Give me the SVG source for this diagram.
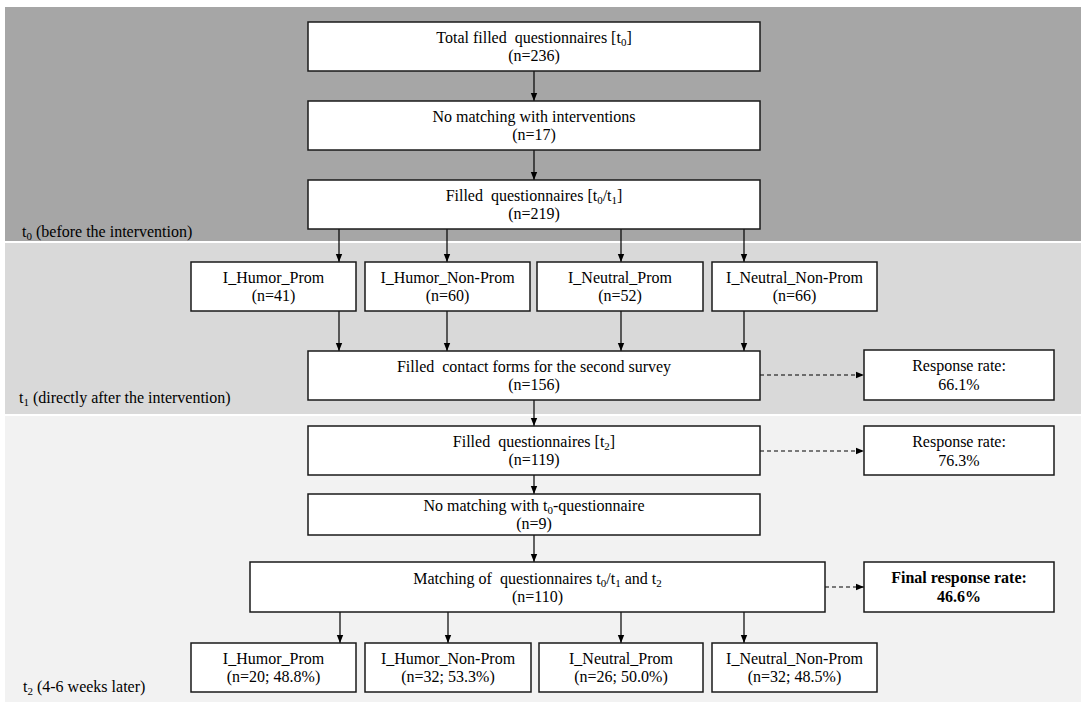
<svg xmlns="http://www.w3.org/2000/svg" width="1084" height="710" viewBox="0 0 1084 710" font-family="'Liberation Serif', 'DejaVu Serif', serif">
<defs>
<marker id="ah" viewBox="0 0 10 10" refX="10" refY="5" markerWidth="8" markerHeight="8" markerUnits="userSpaceOnUse" orient="auto"><path d="M0,1 L10,5 L0,9 z" fill="#000"/></marker>
<style>
.box{fill:#fff;stroke:#1a1a1a;stroke-width:1.5}
text{font-family:'Liberation Serif','DejaVu Serif',serif;font-size:16px;fill:#000}
.c{text-anchor:middle}
.b{font-weight:bold}
.sub{font-size:11px}
.ln{stroke:#000;stroke-width:1.2;fill:none}
.dash{stroke:#000;stroke-width:1.2;fill:none;stroke-dasharray:4 3}
</style>
</defs>
<rect width="1084" height="710" fill="#fff"/>
<g id="bands">
<rect x="5" y="7" width="1076" height="234" fill="#a6a6a6"/>
<rect x="5" y="243" width="1076" height="171" fill="#d9d9d9"/>
<rect x="5" y="416" width="1076" height="286" fill="#f2f2f2"/>
<text x="22" y="237">t<tspan class="sub" dy="3">0</tspan><tspan dy="-3"> (before the intervention)</tspan></text>
<text x="19" y="403">t<tspan class="sub" dy="3">1</tspan><tspan dy="-3"> (directly after the intervention)</tspan></text>
<text x="23" y="692">t<tspan class="sub" dy="3">2</tspan><tspan dy="-3"> (4-6 weeks later)</tspan></text>
</g>
<g id="connectors">
<line class="ln" x1="534" y1="71" x2="534" y2="101" marker-end="url(#ah)"/>
<line class="ln" x1="534" y1="150" x2="534" y2="180" marker-end="url(#ah)"/>
<line class="ln" x1="339" y1="229" x2="339" y2="262" marker-end="url(#ah)"/>
<line class="ln" x1="447" y1="229" x2="447" y2="262" marker-end="url(#ah)"/>
<line class="ln" x1="621" y1="229" x2="621" y2="262" marker-end="url(#ah)"/>
<line class="ln" x1="744" y1="229" x2="744" y2="262" marker-end="url(#ah)"/>
<line class="ln" x1="339" y1="311" x2="339" y2="351" marker-end="url(#ah)"/>
<line class="ln" x1="447" y1="311" x2="447" y2="351" marker-end="url(#ah)"/>
<line class="ln" x1="621" y1="311" x2="621" y2="351" marker-end="url(#ah)"/>
<line class="ln" x1="744" y1="311" x2="744" y2="351" marker-end="url(#ah)"/>
<line class="dash" x1="760" y1="375" x2="864" y2="375" marker-end="url(#ah)"/>
<line class="ln" x1="534" y1="400" x2="534" y2="426" marker-end="url(#ah)"/>
<line class="dash" x1="760" y1="451" x2="864" y2="451" marker-end="url(#ah)"/>
<line class="ln" x1="534" y1="475" x2="534" y2="494" marker-end="url(#ah)"/>
<line class="ln" x1="534" y1="535" x2="534" y2="562" marker-end="url(#ah)"/>
<line class="dash" x1="825" y1="587" x2="864" y2="587" marker-end="url(#ah)"/>
<line class="ln" x1="340" y1="612" x2="340" y2="643" marker-end="url(#ah)"/>
<line class="ln" x1="448" y1="612" x2="448" y2="643" marker-end="url(#ah)"/>
<line class="ln" x1="621" y1="612" x2="621" y2="643" marker-end="url(#ah)"/>
<line class="ln" x1="744" y1="612" x2="744" y2="643" marker-end="url(#ah)"/>
</g>
<g id="n-total">
<rect class="box" x="308" y="22" width="452" height="49"/>
<text class="c" x="534" y="43" xml:space="preserve">Total filled  questionnaires [t<tspan class="sub" dy="3">0</tspan><tspan dy="-3">]</tspan></text>
<text class="c" x="534" y="61">(n=236)</text>
</g>
<g id="n-nomatch1">
<rect class="box" x="308" y="101" width="452" height="49"/>
<text class="c" x="534" y="122">No matching with interventions</text>
<text class="c" x="534" y="140">(n=17)</text>
</g>
<g id="n-filled01">
<rect class="box" x="308" y="180" width="452" height="49"/>
<text class="c" x="534" y="201" xml:space="preserve">Filled  questionnaires [t<tspan class="sub" dy="3">0</tspan><tspan dy="-3">/t</tspan><tspan class="sub" dy="3">1</tspan><tspan dy="-3">]</tspan></text>
<text class="c" x="534" y="219">(n=219)</text>
</g>
<g id="n-t1-hp">
<rect class="box" x="191" y="262" width="165" height="49"/>
<text class="c" x="273.5" y="283">I_Humor_Prom</text>
<text class="c" x="273.5" y="301">(n=41)</text>
</g>
<g id="n-t1-hnp">
<rect class="box" x="365" y="262" width="165" height="49"/>
<text class="c" x="447.5" y="283">I_Humor_Non-Prom</text>
<text class="c" x="447.5" y="301">(n=60)</text>
</g>
<g id="n-t1-np">
<rect class="box" x="537" y="262" width="166" height="49"/>
<text class="c" x="620" y="283">I_Neutral_Prom</text>
<text class="c" x="620" y="301">(n=52)</text>
</g>
<g id="n-t1-nnp">
<rect class="box" x="712" y="262" width="165" height="49"/>
<text class="c" x="794.5" y="283">I_Neutral_Non-Prom</text>
<text class="c" x="794.5" y="301">(n=66)</text>
</g>
<g id="n-contact">
<rect class="box" x="308" y="351" width="452" height="49"/>
<text class="c" x="534" y="372" xml:space="preserve">Filled  contact forms for the second survey</text>
<text class="c" x="534" y="390">(n=156)</text>
</g>
<g id="n-rr1">
<rect class="box" x="864" y="350" width="190" height="50"/>
<text class="c" x="959" y="371">Response rate:</text>
<text class="c" x="959" y="390">66.1%</text>
</g>
<g id="n-filled2">
<rect class="box" x="308" y="426" width="452" height="49"/>
<text class="c" x="534" y="447" xml:space="preserve">Filled  questionnaires [t<tspan class="sub" dy="3">2</tspan><tspan dy="-3">]</tspan></text>
<text class="c" x="534" y="465">(n=119)</text>
</g>
<g id="n-rr2">
<rect class="box" x="864" y="426" width="190" height="49"/>
<text class="c" x="959" y="447">Response rate:</text>
<text class="c" x="959" y="466">76.3%</text>
</g>
<g id="n-nomatch2">
<rect class="box" x="308" y="494" width="452" height="41"/>
<text class="c" x="534" y="511">No matching with t<tspan class="sub" dy="3">0</tspan><tspan dy="-3">-questionnaire</tspan></text>
<text class="c" x="534" y="529">(n=9)</text>
</g>
<g id="n-matching">
<rect class="box" x="250" y="562" width="575" height="50"/>
<text class="c" x="537.5" y="584" xml:space="preserve">Matching of  questionnaires t<tspan class="sub" dy="3">0</tspan><tspan dy="-3">/t</tspan><tspan class="sub" dy="3">1</tspan><tspan dy="-3"> and t</tspan><tspan class="sub" dy="3">2</tspan></text>
<text class="c" x="537.5" y="602">(n=110)</text>
</g>
<g id="n-final">
<rect class="box" x="864" y="562" width="190" height="50"/>
<text class="c b" x="959" y="583">Final response rate:</text>
<text class="c b" x="959" y="602">46.6%</text>
</g>
<g id="n-t2-hp">
<rect class="box" x="191" y="643" width="165" height="49"/>
<text class="c" x="273.5" y="664">I_Humor_Prom</text>
<text class="c" x="273.5" y="682">(n=20; 48.8%)</text>
</g>
<g id="n-t2-hnp">
<rect class="box" x="365" y="643" width="166" height="49"/>
<text class="c" x="448" y="664">I_Humor_Non-Prom</text>
<text class="c" x="448" y="682">(n=32; 53.3%)</text>
</g>
<g id="n-t2-np">
<rect class="box" x="539" y="643" width="164" height="49"/>
<text class="c" x="621" y="664">I_Neutral_Prom</text>
<text class="c" x="621" y="682">(n=26; 50.0%)</text>
</g>
<g id="n-t2-nnp">
<rect class="box" x="712" y="643" width="165" height="49"/>
<text class="c" x="794.5" y="664">I_Neutral_Non-Prom</text>
<text class="c" x="794.5" y="682">(n=32; 48.5%)</text>
</g>
</svg>
